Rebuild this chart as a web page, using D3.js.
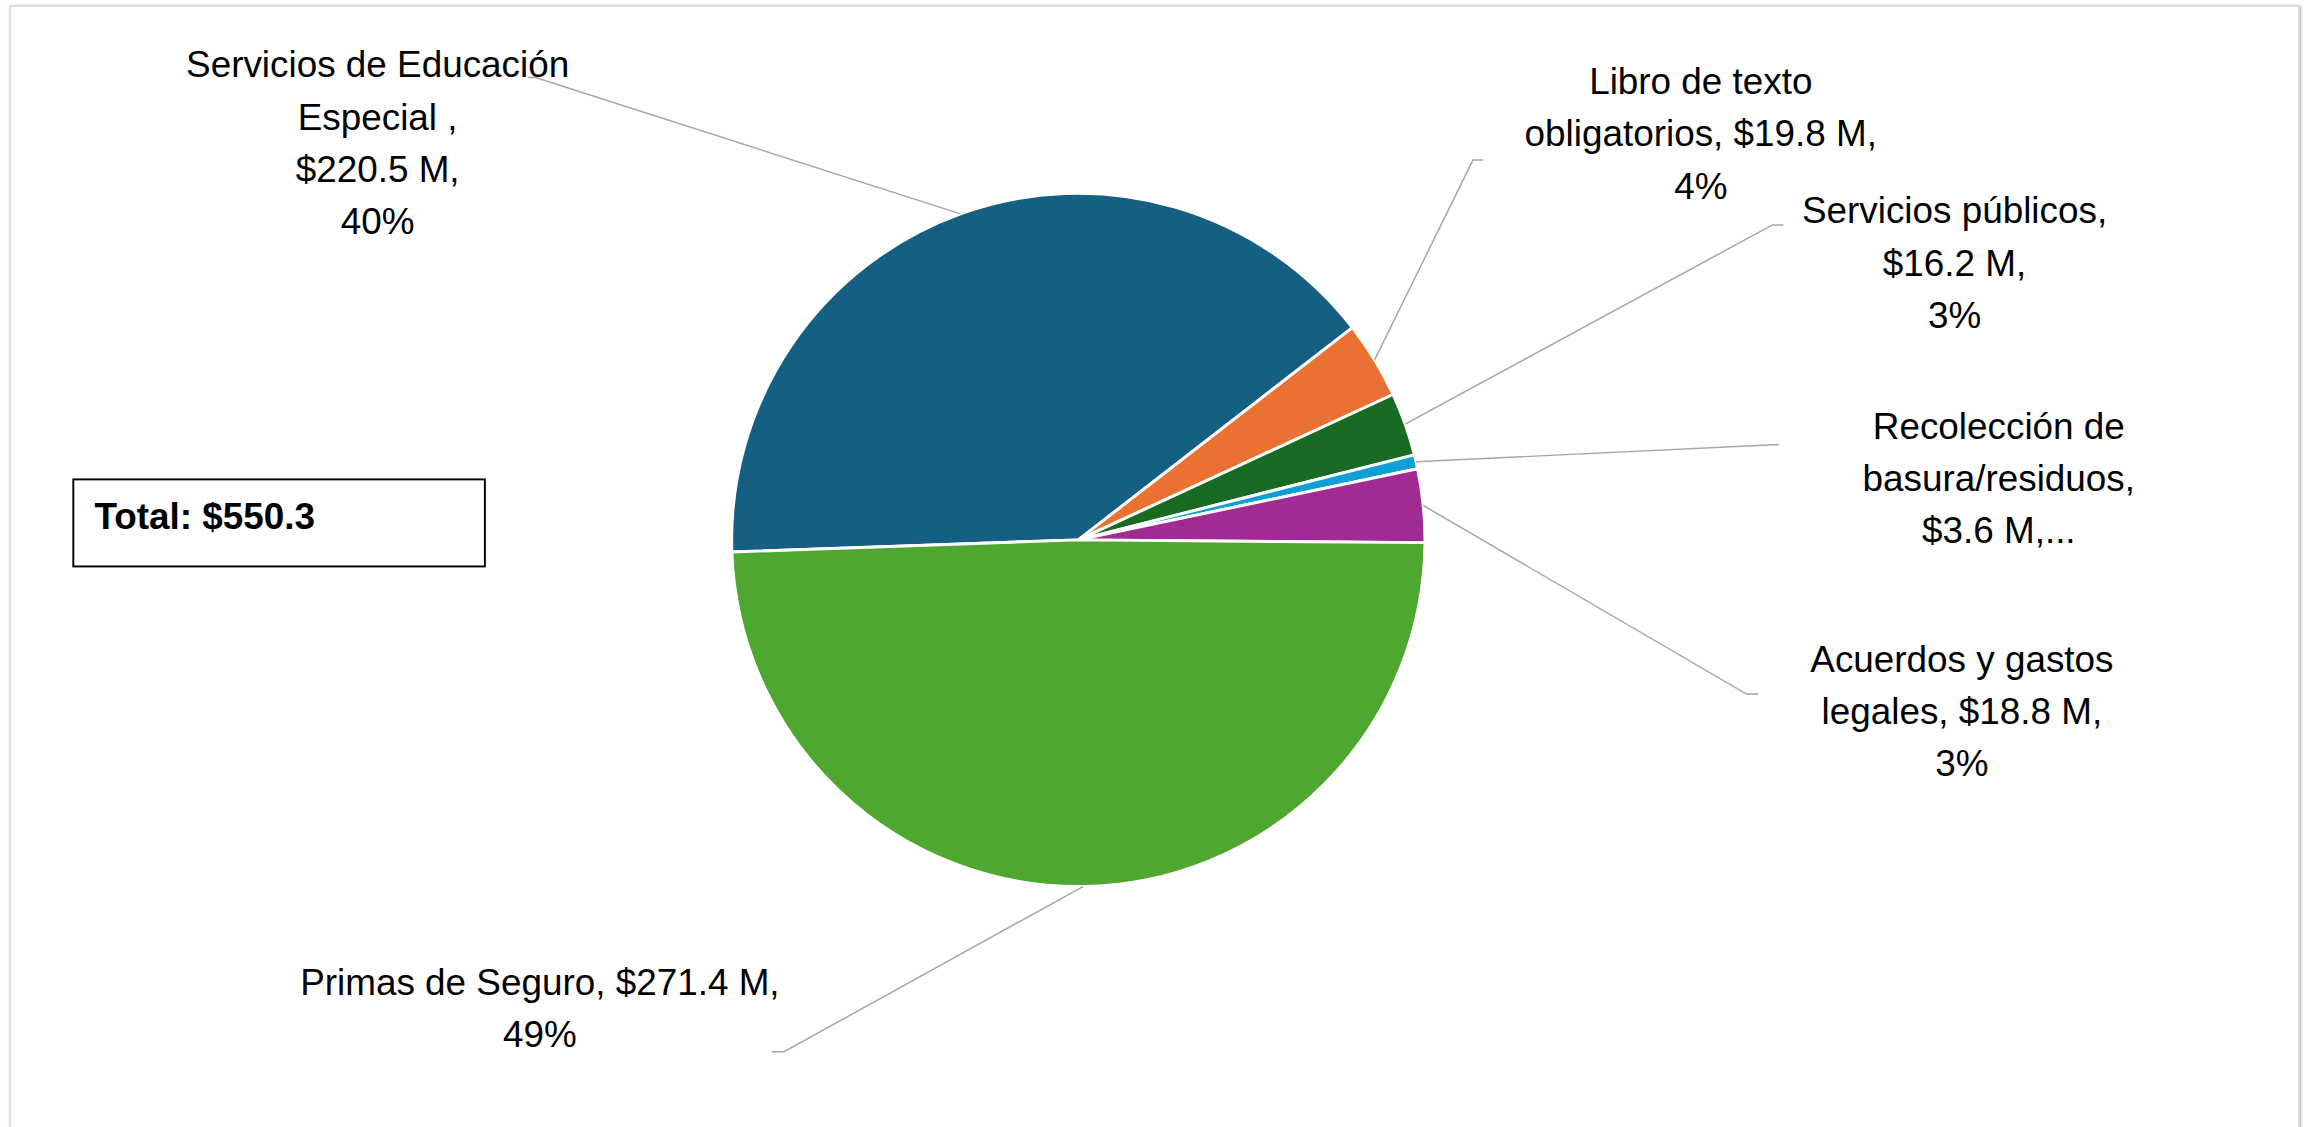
<!DOCTYPE html>
<html>
<head>
<meta charset="utf-8">
<script src="https://cdn.jsdelivr.net/npm/d3@7"></script>
<style>
  html, body { margin: 0; padding: 0; background: #fff; overflow: hidden; }
  svg { display: block; }
  .lbl { font-family: "Liberation Sans", Arial, sans-serif; font-size: 25px; fill: #000; }
</style>
</head>
<body>
<svg id="pie"></svg>
<script>
// data (millions of dollars)
var categories = ["Servicios de Educación Especial", "Libro de texto obligatorios", "Servicios públicos",
                  "Recolección de basura/residuos", "Acuerdos y gastos legales", "Primas de Seguro"];
var values = [220.5, 19.8, 16.2, 3.6, 18.8, 271.4];
var colors = ["#156082", "#E97132", "#196B24", "#0F9ED5", "#A02B93", "#4EA72E"];
var totalLabel = "Total: $550.3";

var total = d3.sum(values);
var money = function(v){ return "$" + d3.format(".1f")(v) + " M,"; };
var pct = function(v){ return d3.format(".0%")(v / total); };

// label text, broken into lines like the original
var labelLines = [
    ["Servicios de Educación", "Especial ,", money(values[0]), pct(values[0])],
    ["Libro de texto", "obligatorios, " + money(values[1]), pct(values[1])],
    ["Servicios públicos,", money(values[2]), pct(values[2])],
    ["Recolección de", "basura/residuos,", money(values[3]) + "..."],
    ["Acuerdos y gastos", "legales, " + money(values[4]), pct(values[4])],
    ["Primas de Seguro, " + money(values[5]), pct(values[5])]
];

// layout (viewBox units)
var W = 1568, H = 764;
var cx = 731, cy = 366, r = 235;
var lineH = 35.3;
var labelPos = [
    {x: 256,  y: 52.5,  elbow: [363, 52.5],   end: [358, 52.5]},
    {x: 1153, y: 64,    elbow: [998.5, 108.5], end: [1005.5, 108.5]},
    {x: 1325, y: 151.5, elbow: [1201.5, 152.5], end: [1209, 152.5]},
    {x: 1355, y: 297.8, elbow: [1202, 301.5], end: [1206, 301.5]},
    {x: 1330, y: 455.5, elbow: [1184, 470.5], end: [1192, 470.5]},
    {x: 366,  y: 674.6, elbow: [531.5, 713],  end: [523, 713]}
];

var svg = d3.select("#pie")
    .attr("width", 2313)
    .attr("height", 1127)
    .attr("viewBox", "0 0 " + W + " " + H);

// chart frame with soft shadow
var defs = svg.append("defs");
var f = defs.append("filter").attr("id", "shadow")
    .attr("x", "-5%").attr("y", "-5%").attr("width", "110%").attr("height", "110%");
f.append("feDropShadow").attr("dx", 0.6).attr("dy", 0.6)
    .attr("stdDeviation", 1.2).attr("flood-color", "#000").attr("flood-opacity", 0.35);

svg.append("rect")
    .attr("x", 7).attr("y", 4)
    .attr("width", 1551.5).attr("height", 820)
    .attr("fill", "#fff")
    .attr("stroke", "#d9d9d9")
    .attr("stroke-width", 1.2)
    .attr("filter", "url(#shadow)");

// pie, first slice angle 268 deg like Excel
var start = 268 * Math.PI / 180;
var pie = d3.pie().sort(null).value(function(d){ return d; })
    .startAngle(start).endAngle(start + 2 * Math.PI);
var arcs = pie(values);

var arc = d3.arc().innerRadius(0).outerRadius(r);
var edge = d3.arc().innerRadius(r).outerRadius(r);

var g = svg.append("g").attr("transform", "translate(" + cx + "," + cy + ")");

g.selectAll(".slice")
    .data(arcs)
    .enter().append("path")
    .attr("class", "slice")
    .attr("d", arc)
    .attr("fill", function(d, i){ return colors[i]; })
    .attr("stroke", "#fff")
    .attr("stroke-width", 2)
    .attr("stroke-linejoin", "round");

// leader lines from slice edge to label
svg.selectAll(".leader")
    .data(arcs)
    .enter().append("polyline")
    .attr("class", "leader")
    .attr("points", function(d, i){
        var p = edge.centroid(d);
        var lp = labelPos[i];
        return [[p[0] + cx, p[1] + cy], lp.elbow, lp.end].map(function(q){ return q.join(","); }).join(" ");
    })
    .attr("fill", "none")
    .attr("stroke", "#a6a6a6")
    .attr("stroke-width", 1);

// data labels
var labels = svg.selectAll(".lbl")
    .data(labelLines)
    .enter().append("text")
    .attr("class", "lbl")
    .attr("text-anchor", "middle");

labels.selectAll("tspan")
    .data(function(d, i){ return d.map(function(t){ return {t: t, i: i}; }); })
    .enter().append("tspan")
    .attr("x", function(d){ return labelPos[d.i].x; })
    .attr("y", function(d, j){ return labelPos[d.i].y + j * lineH; })
    .text(function(d){ return d.t; });

// total box
svg.append("rect")
    .attr("x", 49.7).attr("y", 325)
    .attr("width", 279).attr("height", 59)
    .attr("fill", "#fff")
    .attr("stroke", "#000")
    .attr("stroke-width", 1.3);

svg.append("text")
    .attr("class", "lbl")
    .attr("x", 64).attr("y", 358.5)
    .attr("font-weight", "bold")
    .text(totalLabel);
</script>
</body>
</html>
